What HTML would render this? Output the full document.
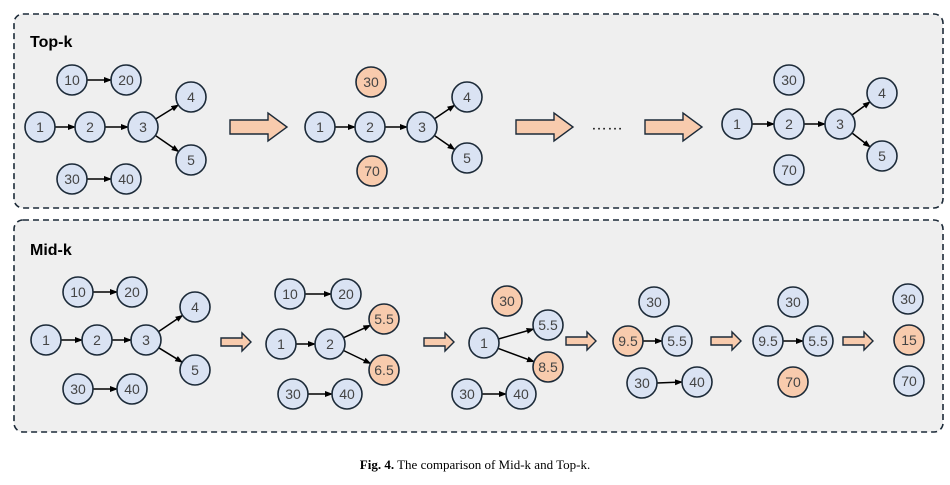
<!DOCTYPE html>
<html><head><meta charset="utf-8"><style>
html,body{margin:0;padding:0;background:#fff;}
svg{display:block;}
.n circle{stroke:#1c2a38;stroke-width:1.6;}
.b{fill:#dae3f3;}
.o{fill:#f8cbad;}
text.t{font-family:"Liberation Sans",sans-serif;font-size:14px;fill:#444;text-anchor:middle;dominant-baseline:central;}
line.e{stroke:#000;stroke-width:1.5;marker-end:url(#ah);}
.ar{fill:#f8cbad;stroke:#1c2a38;stroke-width:1.4;}
</style></head><body>
<svg width="950" height="485" viewBox="0 0 950 485" xmlns="http://www.w3.org/2000/svg">
<defs><marker id="ah" markerWidth="8" markerHeight="8" refX="7" refY="4" orient="auto" markerUnits="userSpaceOnUse"><path d="M0,1 L8,4 L0,7 Z" fill="#000"/></marker></defs>
<rect x="14" y="14" width="929" height="194" rx="9" fill="#efefef" stroke="#1c2a38" stroke-width="1.6" stroke-dasharray="6,4"/>
<rect x="14" y="220" width="929" height="212" rx="9" fill="#efefef" stroke="#1c2a38" stroke-width="1.6" stroke-dasharray="6,4"/>
<text x="30" y="47" font-family="'Liberation Sans',sans-serif" font-weight="bold" font-size="16">Top-k</text>
<text x="30" y="255" font-family="'Liberation Sans',sans-serif" font-weight="bold" font-size="16">Mid-k</text>

<!-- edges top -->
<line class="e" x1="87" y1="80" x2="111" y2="80"/>
<line class="e" x1="55" y1="127" x2="75" y2="127"/>
<line class="e" x1="105" y1="127" x2="128" y2="127"/>
<line class="e" x1="155.7" y1="119" x2="178.3" y2="105"/>
<line class="e" x1="155.4" y1="135.5" x2="178.6" y2="151.5"/>
<line class="e" x1="87" y1="179" x2="111" y2="179"/>
<line class="e" x1="335" y1="127" x2="355" y2="127"/>
<line class="e" x1="385" y1="127" x2="407" y2="127"/>
<line class="e" x1="434.5" y1="118.7" x2="454.5" y2="105.3"/>
<line class="e" x1="434.4" y1="135.5" x2="454.6" y2="149.5"/>
<line class="e" x1="752" y1="124" x2="774" y2="124"/>
<line class="e" x1="804" y1="124" x2="825" y2="124"/>
<line class="e" x1="852" y1="115" x2="870" y2="101.9"/>
<line class="e" x1="852" y1="133" x2="870" y2="146.9"/>
<!-- edges mid -->
<line class="e" x1="93" y1="292" x2="117" y2="292"/>
<line class="e" x1="61" y1="340" x2="82" y2="340"/>
<line class="e" x1="112" y1="340" x2="131" y2="340"/>
<line class="e" x1="158.5" y1="331.6" x2="182.5" y2="315.4"/>
<line class="e" x1="158.8" y1="347.8" x2="182.2" y2="362.2"/>
<line class="e" x1="93" y1="389" x2="117" y2="389"/>
<line class="e" x1="305" y1="294" x2="331" y2="294"/>
<line class="e" x1="296" y1="344" x2="315" y2="344"/>
<line class="e" x1="343.6" y1="337.7" x2="370.4" y2="325.3"/>
<line class="e" x1="343.5" y1="350.5" x2="370.5" y2="363.5"/>
<line class="e" x1="308" y1="394" x2="332" y2="394"/>
<line class="e" x1="498.4" y1="339" x2="533.6" y2="329"/>
<line class="e" x1="498" y1="348.3" x2="534" y2="361.7"/>
<line class="e" x1="482" y1="394" x2="506" y2="394"/>
<line class="e" x1="643" y1="341" x2="662" y2="341"/>
<line class="e" x1="657" y1="383" x2="682" y2="382"/>
<line class="e" x1="783" y1="341" x2="803" y2="341"/>

<!-- big arrows -->
<path class="ar" d="M230,120 H268 V113 L287,127 L268,141 V134 H230 Z"/>
<path class="ar" d="M516,120 H554 V113 L573,127 L554,141 V134 H516 Z"/>
<path class="ar" d="M645,120 H683 V113 L702,127 L683,141 V134 H645 Z"/>
<text x="607" y="125" font-family="'Liberation Sans',sans-serif" font-size="16" text-anchor="middle" dominant-baseline="central">……</text>
<!-- small arrows -->
<path class="ar" d="M221,338 H242 V333 L251,342 L242,351 V346 H221 Z"/>
<path class="ar" d="M424,338 H445 V333 L454,342 L445,351 V346 H424 Z"/>
<path class="ar" d="M566,337 H587 V332 L596,341 L587,350 V345 H566 Z"/>
<path class="ar" d="M711,337 H732 V332 L741,341 L732,350 V345 H711 Z"/>
<path class="ar" d="M843,337 H864 V332 L873,341 L864,350 V345 H843 Z"/>

<g class="n">
<!-- top g1 -->
<circle class="b" cx="72" cy="80" r="15"/><text class="t" x="72" y="80">10</text>
<circle class="b" cx="126" cy="80" r="15"/><text class="t" x="126" y="80">20</text>
<circle class="b" cx="40" cy="127" r="15"/><text class="t" x="40" y="127">1</text>
<circle class="b" cx="90" cy="127" r="15"/><text class="t" x="90" y="127">2</text>
<circle class="b" cx="143" cy="127" r="15"/><text class="t" x="143" y="127">3</text>
<circle class="b" cx="191" cy="97" r="15"/><text class="t" x="191" y="97">4</text>
<circle class="b" cx="191" cy="160" r="15"/><text class="t" x="191" y="160">5</text>
<circle class="b" cx="72" cy="179" r="15"/><text class="t" x="72" y="179">30</text>
<circle class="b" cx="126" cy="179" r="15"/><text class="t" x="126" y="179">40</text>
<!-- top g2 -->
<circle class="o" cx="371" cy="82" r="15"/><text class="t" x="371" y="82">30</text>
<circle class="b" cx="320" cy="127" r="15"/><text class="t" x="320" y="127">1</text>
<circle class="b" cx="370" cy="127" r="15"/><text class="t" x="370" y="127">2</text>
<circle class="b" cx="422" cy="127" r="15"/><text class="t" x="422" y="127">3</text>
<circle class="b" cx="467" cy="97" r="15"/><text class="t" x="467" y="97">4</text>
<circle class="b" cx="467" cy="158" r="15"/><text class="t" x="467" y="158">5</text>
<circle class="o" cx="372" cy="171" r="15"/><text class="t" x="372" y="171">70</text>
<!-- top g3 -->
<circle class="b" cx="789" cy="80" r="15"/><text class="t" x="789" y="80">30</text>
<circle class="b" cx="737" cy="124" r="15"/><text class="t" x="737" y="124">1</text>
<circle class="b" cx="789" cy="124" r="15"/><text class="t" x="789" y="124">2</text>
<circle class="b" cx="840" cy="124" r="15"/><text class="t" x="840" y="124">3</text>
<circle class="b" cx="882" cy="93" r="15"/><text class="t" x="882" y="93">4</text>
<circle class="b" cx="882" cy="156" r="15"/><text class="t" x="882" y="156">5</text>
<circle class="b" cx="789" cy="170" r="15"/><text class="t" x="789" y="170">70</text>
<!-- mid g1 -->
<circle class="b" cx="78" cy="292" r="15"/><text class="t" x="78" y="292">10</text>
<circle class="b" cx="132" cy="292" r="15"/><text class="t" x="132" y="292">20</text>
<circle class="b" cx="46" cy="340" r="15"/><text class="t" x="46" y="340">1</text>
<circle class="b" cx="97" cy="340" r="15"/><text class="t" x="97" y="340">2</text>
<circle class="b" cx="146" cy="340" r="15"/><text class="t" x="146" y="340">3</text>
<circle class="b" cx="195" cy="307" r="15"/><text class="t" x="195" y="307">4</text>
<circle class="b" cx="195" cy="370" r="15"/><text class="t" x="195" y="370">5</text>
<circle class="b" cx="78" cy="389" r="15"/><text class="t" x="78" y="389">30</text>
<circle class="b" cx="132" cy="389" r="15"/><text class="t" x="132" y="389">40</text>
<!-- mid g2 -->
<circle class="b" cx="290" cy="294" r="15"/><text class="t" x="290" y="294">10</text>
<circle class="b" cx="346" cy="294" r="15"/><text class="t" x="346" y="294">20</text>
<circle class="b" cx="281" cy="344" r="15"/><text class="t" x="281" y="344">1</text>
<circle class="b" cx="330" cy="344" r="15"/><text class="t" x="330" y="344">2</text>
<circle class="o" cx="384" cy="319" r="15"/><text class="t" x="384" y="319">5.5</text>
<circle class="o" cx="384" cy="370" r="15"/><text class="t" x="384" y="370">6.5</text>
<circle class="b" cx="293" cy="394" r="15"/><text class="t" x="293" y="394">30</text>
<circle class="b" cx="347" cy="394" r="15"/><text class="t" x="347" y="394">40</text>
<!-- mid g3 -->
<circle class="o" cx="507" cy="301" r="15"/><text class="t" x="507" y="301">30</text>
<circle class="b" cx="484" cy="343" r="15"/><text class="t" x="484" y="343">1</text>
<circle class="b" cx="548" cy="325" r="15"/><text class="t" x="548" y="325">5.5</text>
<circle class="o" cx="548" cy="367" r="15"/><text class="t" x="548" y="367">8.5</text>
<circle class="b" cx="467" cy="394" r="15"/><text class="t" x="467" y="394">30</text>
<circle class="b" cx="521" cy="394" r="15"/><text class="t" x="521" y="394">40</text>
<!-- mid g4 -->
<circle class="b" cx="654" cy="302" r="15"/><text class="t" x="654" y="302">30</text>
<circle class="o" cx="628" cy="341" r="15"/><text class="t" x="628" y="341">9.5</text>
<circle class="b" cx="677" cy="341" r="15"/><text class="t" x="677" y="341">5.5</text>
<circle class="b" cx="642" cy="383" r="15"/><text class="t" x="642" y="383">30</text>
<circle class="b" cx="697" cy="382" r="15"/><text class="t" x="697" y="382">40</text>
<!-- mid g5 -->
<circle class="b" cx="793" cy="302" r="15"/><text class="t" x="793" y="302">30</text>
<circle class="b" cx="768" cy="341" r="15"/><text class="t" x="768" y="341">9.5</text>
<circle class="b" cx="818" cy="341" r="15"/><text class="t" x="818" y="341">5.5</text>
<circle class="o" cx="793" cy="382" r="15"/><text class="t" x="793" y="382">70</text>
<!-- mid g6 -->
<circle class="b" cx="908" cy="299" r="15"/><text class="t" x="908" y="299">30</text>
<circle class="o" cx="909" cy="340" r="15"/><text class="t" x="909" y="340">15</text>
<circle class="b" cx="909" cy="381" r="15"/><text class="t" x="909" y="381">70</text>
</g>

<text x="475" y="469" text-anchor="middle" font-family="'Liberation Serif',serif" font-size="13"><tspan font-weight="bold">Fig. 4.</tspan>  The comparison of Mid-k and Top-k.</text>
</svg>
</body></html>
